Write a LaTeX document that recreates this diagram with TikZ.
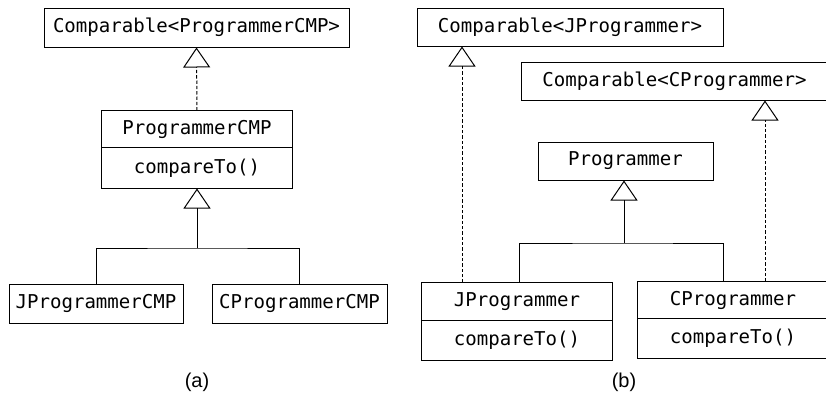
\documentclass[tikz,border=0pt]{standalone}
\usepackage{fontspec}
\setmainfont{Liberation Sans}
\newfontfamily\codefont{DejaVu Sans Mono}
\usetikzlibrary{arrows.meta}
\begin{document}
\begin{tikzpicture}[x=0.75pt,y=-0.75pt,
  cls/.style={draw, line width=0.75pt, font=\codefont\fontsize{14.3}{16}\selectfont, inner sep=0pt},
  part/.style={cls, draw=none},
  frame/.style={line width=0.75pt},
  gen/.style={line width=0.75pt, -{Triangle[open, length=15pt, width=20.25pt]}},
  real/.style={gen, dash pattern=on 2.5pt off 1.5pt},
  assoc/.style={line width=0.75pt},
  lbl/.style={font=\fontsize{15}{17}\selectfont}
]
\clip (0,0) rectangle (826,393);
% (a)
\node[cls, minimum width=228.75pt, minimum height=29.25pt] (cmp) at (196.5,27.5) {Comparable<ProgrammerCMP>};
\node[part, minimum width=142.5pt, minimum height=27pt] (pcmp) at (197,129) {ProgrammerCMP};
\node[part, minimum width=142.5pt, minimum height=30pt, anchor=north] (pcmpm) at (pcmp.south) {compareTo()};
\draw[frame] (pcmp.north west) rectangle (pcmpm.south east);
\draw[frame] (pcmp.south west) -- (pcmp.south east);
\node[cls, minimum width=130.5pt, minimum height=29.25pt] (jcmp) at (96,303.5) {JProgrammerCMP};
\node[cls, minimum width=131.25pt, minimum height=29.25pt] (ccmp) at (299.5,303.5) {CProgrammerCMP};
\draw[real] (pcmp.north) -- (cmp.south);
\coordinate (ja) at (197,248);
\draw[gen] (ja) -- (pcmpm.south);
\draw[assoc] (jcmp.north) |- (ja) -| (ccmp.north);
\node[lbl] (la) at (197,382) {(a)};
% (b)
\node[cls, minimum width=229.5pt, minimum height=28.5pt] (cj) at (570,27) {Comparable<JProgrammer>};
\node[cls, minimum width=230.25pt, minimum height=28.5pt] (cc) at (674.5,81) {Comparable<CProgrammer>};
\node[cls, minimum width=131.25pt, minimum height=28.5pt] (prog) at (625.5,161) {Programmer};
\node[part, minimum width=142.5pt, minimum height=27.75pt] (jp) at (517,301.5) {JProgrammer};
\node[part, minimum width=142.5pt, minimum height=29.25pt, anchor=north] (jpm) at (jp.south) {compareTo()};
\draw[frame] (jp.north west) rectangle (jpm.south east);
\draw[frame] (jp.south west) -- (jp.south east);
\node[part, minimum width=142.5pt, minimum height=27pt] (cp) at (733,300) {CProgrammer};
\node[part, minimum width=142.5pt, minimum height=29.25pt, anchor=north] (cpm) at (cp.south) {compareTo()};
\draw[frame] (cp.north west) rectangle (cpm.south east);
\draw[frame] (cp.south west) -- (cp.south east);
\coordinate (dj) at (462,0);
\coordinate (dc) at (765,0);
\draw[real] (jp.north -| dj) -- (cj.south -| dj);
\draw[real] (cp.north -| dc) -- (cc.south -| dc);
\coordinate (jb) at (624,243);
\draw[gen] (jb) -- (prog.south -| jb);
\coordinate (lj) at (519,0);
\coordinate (lc) at (723,0);
\draw[assoc] (jp.north -| lj) |- (jb) -| (cp.north -| lc);
\node[lbl] (lb) at (624,382) {(b)};
\end{tikzpicture}
\end{document}
